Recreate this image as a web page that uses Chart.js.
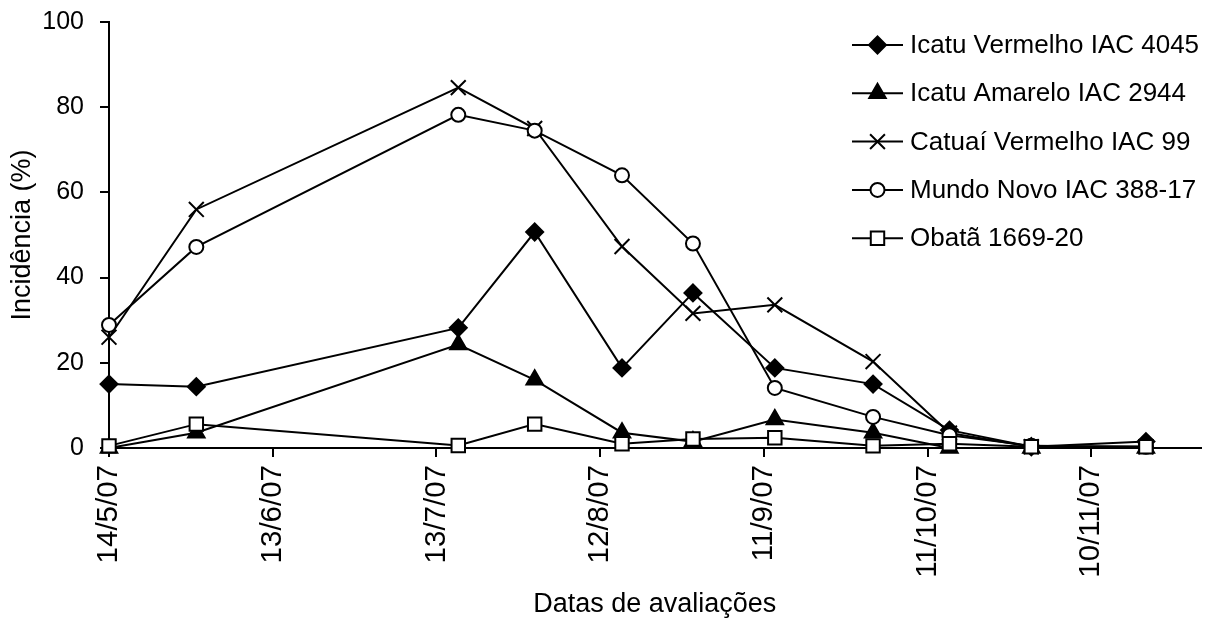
<!DOCTYPE html>
<html>
<head>
<meta charset="utf-8">
<script src="https://cdn.jsdelivr.net/npm/chart.js@4/dist/chart.umd.min.js"></script>
<style>
  html, body { margin: 0; padding: 0; background: #fff; }
  #wrap { width: 1213px; height: 623px; position: relative; }
</style>
</head>
<body>
<div id="wrap"><canvas id="chart"></canvas></div>
<script>
'use strict';

// evaluation dates (yyyy-mm-dd)
const evalDates = ['2007-05-14', '2007-05-30', '2007-07-17', '2007-07-31', '2007-08-16', '2007-08-29',
                   '2007-09-13', '2007-10-01', '2007-10-15', '2007-10-30', '2007-11-20'];

// incidence (%) per cultivar
const icatuVermelho  = [15.0, 14.4, 28.2, 50.7, 18.8, 36.4, 18.8, 15.0, 4.2, 0.3, 1.5];
const icatuAmarelo   = [0.0, 3.6, 24.3, 16.0, 3.6, 1.5, 6.7, 3.6, 0.0, 0.0, 0.0];
const catuaiVermelho = [26.0, 56.0, 84.6, 75.0, 47.3, 31.6, 33.6, 20.3, 3.5, 0.3, 0.3];
const mundoNovo      = [28.9, 47.2, 78.2, 74.5, 64.0, 48.0, 14.1, 7.3, 3.0, 0.5, 0.3];
const obata          = [0.5, 5.6, 0.6, 5.6, 1.0, 2.1, 2.4, 0.5, 1.0, 0.3, 0.3];

const seriesNames = ['Icatu Vermelho IAC 4045', 'Icatu Amarelo IAC 2944', 'Catuaí Vermelho IAC 99',
                     'Mundo Novo IAC 388-17', 'Obatã 1669-20'];

// x tick labels (d/m/yy)
const xTickLabels = ['14/5/07', '13/6/07', '13/7/07', '12/8/07', '11/9/07', '11/10/07', '10/11/07'];
const yTicks = [0, 20, 40, 60, 80, 100];

const FONT = "'Liberation Sans', Arial, sans-serif";
const DAY = 86400000;
const origin = Date.UTC(2007, 4, 14);

function isoToDay(s) {
    const [y, m, d] = s.split('-').map(Number);
    return Math.round((Date.UTC(y, m - 1, d) - origin) / DAY);
}
function dmyToDay(s) {
    const [d, m, y] = s.split('/').map(Number);
    return Math.round((Date.UTC(2000 + y, m - 1, d) - origin) / DAY);
}

const xDays = evalDates.map(isoToDay);
const tickDays = xTickLabels.map(dmyToDay);
const tickLabelByDay = {};
tickDays.forEach((d, i) => { tickLabelByDay[d] = xTickLabels[i]; });

const toPoints = vals => vals.map((v, i) => ({ x: xDays[i], y: v }));

const markerStyles = [
    { pointStyle: 'rectRot',  pointRadius: 8.5,  fill: '#000' },
    { pointStyle: 'triangle', pointRadius: 9.5,  fill: '#000' },
    { pointStyle: 'crossRot', pointRadius: 10.5, fill: '#000' },
    { pointStyle: 'circle',   pointRadius: 7,    fill: '#fff' },
    { pointStyle: 'rect',     pointRadius: 9.5,  fill: '#fff' }
];

const allSeries = [icatuVermelho, icatuAmarelo, catuaiVermelho, mundoNovo, obata];

const datasets = allSeries.map((vals, i) => ({
    label: seriesNames[i],
    data: toPoints(vals),
    borderColor: '#000',
    borderWidth: 2,
    pointStyle: markerStyles[i].pointStyle,
    pointRadius: markerStyles[i].pointRadius,
    pointHoverRadius: markerStyles[i].pointRadius,
    pointBackgroundColor: markerStyles[i].fill,
    pointBorderColor: '#000',
    pointBorderWidth: 2,
    tension: 0,
    fill: false,
    clip: false,
    order: allSeries.length - i   // later series drawn on top
}));

// legend with a line through the marker, drawn inside the plot area
const lineLegend = {
    id: 'lineLegend',
    afterDraw(chart) {
        const ctx = chart.ctx;
        const x0 = 852, x1 = 903, textX = 910, top = 45, step = 48.3;
        ctx.save();
        chart.data.datasets.forEach((ds, i) => {
            const y = top + i * step;
            ctx.strokeStyle = '#000';
            ctx.lineWidth = 2;
            ctx.beginPath();
            ctx.moveTo(x0, y);
            ctx.lineTo(x1, y);
            ctx.stroke();
            ctx.fillStyle = ds.pointBackgroundColor;
            Chart.helpers.drawPoint(ctx, {
                pointStyle: ds.pointStyle,
                radius: ds.pointRadius,
                borderWidth: 2,
                rotation: 0
            }, (x0 + x1) / 2, y);
            ctx.fillStyle = '#000';
            ctx.font = '26px ' + FONT;
            ctx.textBaseline = 'middle';
            ctx.textAlign = 'left';
            ctx.fillText(ds.label, textX, y + 1);
        });
        ctx.restore();
    }
};

new Chart(document.getElementById('chart'), {
    type: 'line',
    data: { datasets },
    plugins: [lineLegend],
    options: {
        responsive: true,
        maintainAspectRatio: false,
        animation: false,
        devicePixelRatio: 1,
        layout: { padding: { left: 0, right: 6, top: 22, bottom: 0 } },
        plugins: {
            legend: { display: false },
            tooltip: { enabled: false }
        },
        scales: {
            x: {
                type: 'linear',
                min: 0,
                max: 200,
                border: { color: '#000', width: 2 },
                grid: { drawOnChartArea: false, color: '#000', lineWidth: 2, tickLength: 9 },
                afterBuildTicks: scale => { scale.ticks = tickDays.map(v => ({ value: v })); },
                afterFit: scale => { scale.height = 175; },
                ticks: {
                    color: '#000',
                    font: { family: FONT, size: 29.5 },
                    minRotation: 90,
                    maxRotation: 90,
                    padding: 8,
                    autoSkip: false,
                    callback: v => tickLabelByDay[v] ?? ''
                },
                title: {
                    display: true,
                    text: 'Datas de avaliações',
                    color: '#000',
                    font: { family: FONT, size: 27 },
                    padding: { top: 0, bottom: 2 }
                }
            },
            y: {
                min: 0,
                max: 100,
                border: { color: '#000', width: 2 },
                grid: { drawOnChartArea: false, color: '#000', lineWidth: 2, tickLength: 9 },
                afterBuildTicks: scale => { scale.ticks = yTicks.map(v => ({ value: v })); },
                afterFit: scale => {
                    scale.width = 109;
                    scale.paddingTop = 0;
                    scale.paddingBottom = 0;
                },
                ticks: {
                    color: '#000',
                    font: { family: FONT, size: 25 },
                    padding: 16
                },
                title: {
                    display: true,
                    text: 'Incidência (%)',
                    color: '#000',
                    font: { family: FONT, size: 27 },
                    padding: { top: 6, bottom: 0 }
                }
            }
        }
    }
});
</script>
</body>
</html>
